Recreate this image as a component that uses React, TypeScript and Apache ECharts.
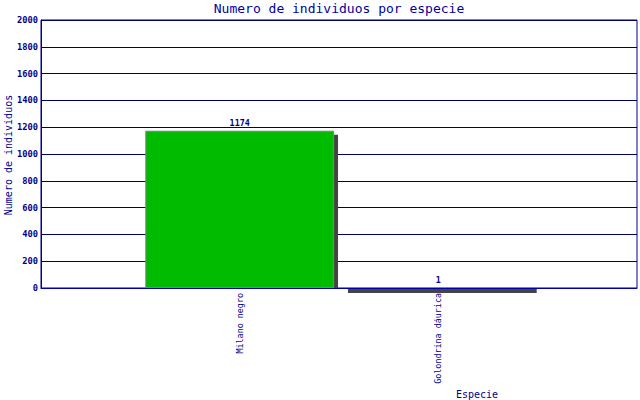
import React, { useEffect, useRef } from "react";
import * as echarts from "echarts";

const categories = ["Milano negro", "Golondrina dáurica"];
const values = [1174, 1];
const yTicks = [0, 200, 400, 600, 800, 1000, 1200, 1400, 1600, 1800, 2000];
const yAxisTitle = "Numero de individuos";
const xAxisTitle = "Especie";

const NAVY = "#000090";
const MONO = "DejaVu Sans Mono, monospace";

export default function App() {
  const ref = useRef<HTMLDivElement>(null);
  useEffect(() => {
    if (!ref.current) return;
    const chart = echarts.init(ref.current, null, { renderer: "svg" });
    const axisCats = ["", ...categories, ""];
    const data = values.map((v, i) => [i + 1, v]);
    chart.setOption({
      animation: false,
      backgroundColor: "#ffffff",
      title: {
        text: "Numero de individuos por especie",
        left: 339,
        top: 2,
        padding: 0,
        textAlign: "center",
        textStyle: { fontFamily: MONO, fontSize: 13, fontWeight: "normal", color: "#0000a0" },
      },
      grid: {
        left: 41,
        right: 3,
        top: 20,
        bottom: 112,
        containLabel: false,
        outerBoundsMode: "none",
        show: true,
        borderColor: NAVY,
        borderWidth: 1,
      },
      xAxis: {
        type: "category",
        data: axisCats,
        boundaryGap: false,
        axisLine: { lineStyle: { color: "#0000a8", width: 1 } },
        axisTick: { show: false },
        splitLine: { show: false },
        axisLabel: {
          rotate: 90,
          interval: 0,
          margin: 5,
          fontFamily: MONO,
          fontSize: 8.4,
          color: NAVY,
        },
      },
      yAxis: {
        type: "value",
        min: yTicks[0],
        max: yTicks[yTicks.length - 1],
        interval: 200,
        axisLine: { show: true, lineStyle: { color: NAVY } },
        axisTick: { show: false },
        splitLine: { show: true, lineStyle: { color: "#000060", width: 1 } },
        axisLabel: {
          margin: 3,
          fontFamily: MONO,
          fontSize: 8.7,
          fontWeight: "bold",
          color: NAVY,
          formatter: (v: number) => String(v),
        },
      },
      graphic: [
        {
          type: "text",
          x: 477,
          y: 394,
          style: {
            text: xAxisTitle,
            font: "10px " + MONO,
            fill: NAVY,
            textAlign: "center",
            textVerticalAlign: "middle",
          },
        },
        {
          type: "text",
          x: 8,
          y: 155,
          rotation: Math.PI / 2,
          style: {
            text: yAxisTitle,
            font: "10px " + MONO,
            fill: NAVY,
            textAlign: "center",
            textVerticalAlign: "middle",
          },
        },
      ],
      series: [
        {
          type: "custom",
          data,
          clip: false,
          renderItem: (params: any, api: any) => {
            const idx = api.value(0);
            const val = api.value(1);
            const top = api.coord([idx, val]);
            const base = api.coord([idx, 0]);
            const next = api.coord([idx + 1, 0]);
            const band = next[0] - base[0];
            const w = band * 0.95;
            const x = base[0] - w / 2;
            const h = base[1] - top[1];
            const children: any[] = [];
            if (h > 4) {
              children.push({
                type: "rect",
                shape: { x: x + w, y: top[1] + 4, width: 4, height: h - 4 },
                style: { fill: "#444444" },
              });
              children.push({
                type: "rect",
                shape: { x: x + 0.5, y: top[1] + 0.5, width: w - 1, height: h - 1 },
                style: { fill: "#00bb00", stroke: "#808080", lineWidth: 1 },
              });
            } else {
              children.push({
                type: "rect",
                shape: { x: x + 4, y: base[1] + 1, width: w, height: 4 },
                style: { fill: "#444444" },
              });
            }
            children.push({
              type: "text",
              x: base[0],
              y: top[1] - 4,
              style: {
                text: String(val),
                font: "bold 8.4px " + MONO,
                fill: NAVY,
                textAlign: "center",
                textVerticalAlign: "bottom",
              },
            });
            return { type: "group", children };
          },
        },
      ],
    });
    return () => chart.dispose();
  }, []);
  return (
    <div
      ref={ref}
      style={{ position: "fixed", left: 0, top: 0, width: 640, height: 400 }}
    />
  );
}
